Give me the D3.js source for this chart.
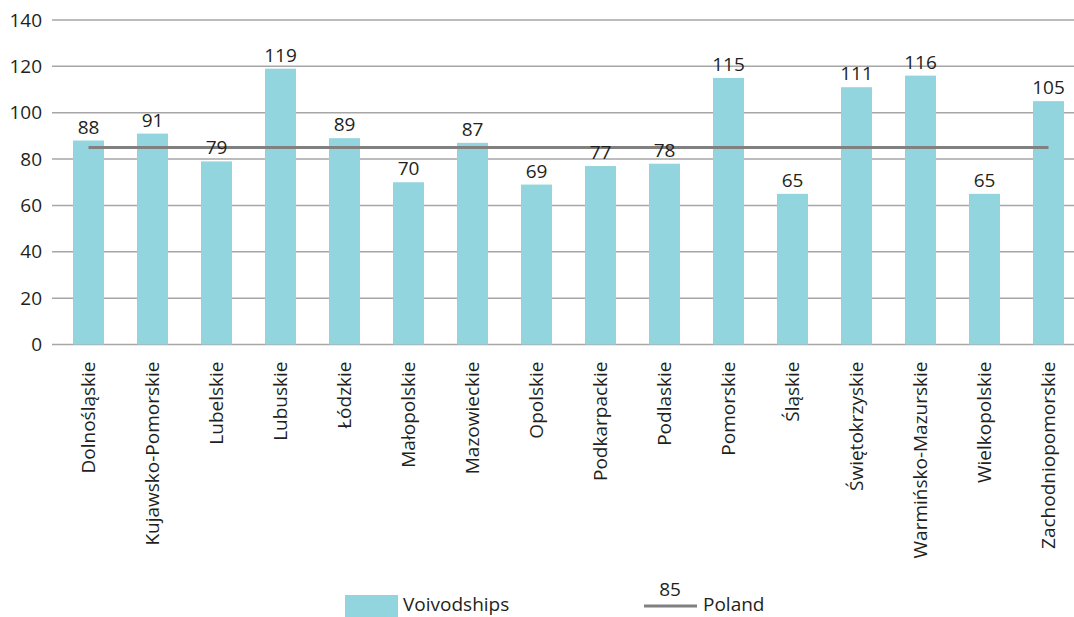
<!DOCTYPE html>
<html>
<head>
<meta charset="utf-8">
<script src="https://cdn.jsdelivr.net/npm/d3@7"></script>
<style>
	body { margin: 0; background: #fff; }
	svg { display: block; }
	text { font-family: "Open Sans", sans-serif; fill: #231f20; }
</style>
</head>
<body>
<svg id="chart"></svg>
<script>
// data
const regions = ["Dolnośląskie", "Kujawsko-Pomorskie", "Lubelskie", "Lubuskie", "Łódzkie", "Małopolskie",
	"Mazowieckie", "Opolskie", "Podkarpackie", "Podlaskie", "Pomorskie", "Śląskie", "Świętokrzyskie",
	"Warmińsko-Mazurskie", "Wielkopolskie", "Zachodniopomorskie"];
const values = [88, 91, 79, 119, 89, 70, 87, 69, 77, 78, 115, 65, 111, 116, 65, 105];
const polandValue = 85;
const yTicks = [0, 20, 40, 60, 80, 100, 120, 140];

const width = 1074, height = 617;
const margin = { top: 20, left: 52, bottom: 344.5 };

const svg = d3.select("#chart").attr("width", width).attr("height", height);

const x_scale = d3.scaleBand().domain(regions).range([56.5, 1080.5]).paddingInner(0.516).paddingOuter(0.258);
const y_scale = d3.scaleLinear().domain([0, 140]).range([margin.bottom, margin.top]);

// gridlines
svg.append("g")
	.selectAll("line")
	.data(yTicks)
	.join("line")
	.attr("x1", margin.left)
	.attr("x2", width)
	.attr("y1", (d) => y_scale(d))
	.attr("y2", (d) => y_scale(d))
	.attr("stroke", "#a6a6a6")
	.attr("stroke-width", 1.5);

// y axis labels
const y_axis = d3.axisLeft(y_scale).tickValues(yTicks).tickSize(0).tickPadding(10);
const gy = svg.append("g").attr("transform", `translate(${margin.left},0)`).call(y_axis);
gy.select(".domain").remove();
gy.selectAll("text").style("font-size", "19px").style("font-family", "'Open Sans', sans-serif").attr("fill", "#231f20");

// bars
svg.append("g")
	.selectAll("rect")
	.data(values)
	.join("rect")
	.attr("x", (d, i) => x_scale(regions[i]))
	.attr("y", (d) => y_scale(d))
	.attr("width", x_scale.bandwidth())
	.attr("height", (d) => y_scale(0) - y_scale(d))
	.attr("fill", "#93d5de");

// poland line (under the value labels)
const cx = (name) => x_scale(name) + x_scale.bandwidth() / 2;
svg.append("line")
	.attr("x1", cx(regions[0]))
	.attr("x2", cx(regions[regions.length - 1]))
	.attr("y1", y_scale(polandValue))
	.attr("y2", y_scale(polandValue))
	.attr("stroke", "#808080")
	.attr("stroke-width", 3);

// value labels
svg.append("g")
	.selectAll("text")
	.data(values)
	.join("text")
	.attr("x", (d, i) => x_scale(regions[i]) + x_scale.bandwidth() / 2)
	.attr("y", (d) => y_scale(d) - 7)
	.attr("text-anchor", "middle")
	.style("font-size", "19px")
	.text((d) => d);

// x axis labels (rotated)
const x_axis = d3.axisBottom(x_scale).tickSize(0).tickPadding(0);
const gx = svg.append("g").attr("transform", `translate(0,${margin.bottom})`).call(x_axis);
gx.select(".domain").remove();
gx.selectAll("text")
	.style("font-size", "19px")
	.style("font-family", "'Open Sans', sans-serif")
	.attr("fill", "#231f20")
	.style("text-anchor", "end")
	.attr("dy", "0.35em")
	.attr("x", -17)
	.attr("y", 0)
	.attr("transform", "rotate(-90)");

// legend
const legend = svg.append("g");
legend.append("rect").attr("x", 345).attr("y", 595).attr("width", 53).attr("height", 25).attr("fill", "#93d5de");
legend.append("text").attr("x", 403).attr("y", 611).style("font-size", "19px").text("Voivodships");
legend.append("line").attr("x1", 644).attr("x2", 697).attr("y1", 606).attr("y2", 606)
	.attr("stroke", "#808080").attr("stroke-width", 3);
legend.append("text").attr("x", 670).attr("y", 596).attr("text-anchor", "middle").style("font-size", "19px").text(polandValue);
legend.append("text").attr("x", 703).attr("y", 611).style("font-size", "19px").text("Poland");
</script>
</body>
</html>
